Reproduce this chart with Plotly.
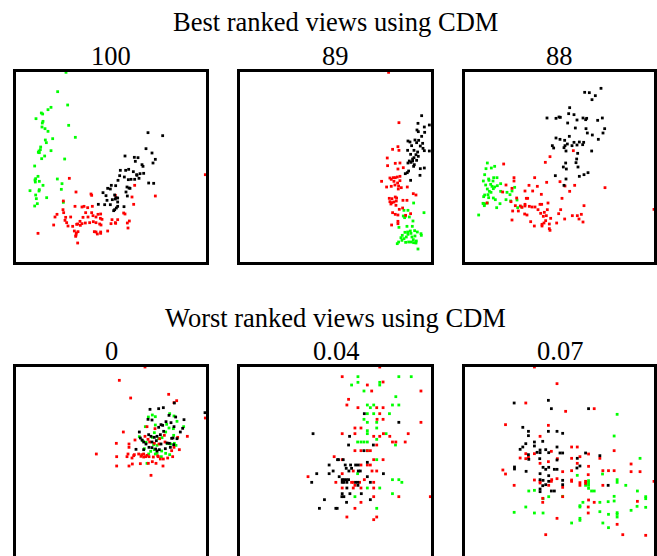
import plotly.graph_objects as go

# ---------------- data (embedding coordinates, arbitrary units) ----------------
# Panel 1 (score 100)
p1_green = [(197,36),(172,94),(202,134),(152,141),(143,148),(123,158),(127,161),(107,175),(128,183),(126,188),
            (125,200),(134,205),(205,195),(143,213),(157,235),(135,239),(138,247),(225,231),(121,260),(120,268),
            (152,271),(116,272),(117,277),(114,276),(133,287),(124,295),(193,296),(103,317),(113,348),(106,355),
            (104,359),(117,363),(105,365),(171,356),(185,370),(128,375),(183,387),(117,388),(89,391),(116,392),
            (106,404),(108,415),(139,412),(189,426),(111,430),(103,437)]
p1_black = [(443,217),(487,226),(437,265),(455,278),(465,297),(374,287),(402,291),(413,292),(405,303),(458,308),
            (425,313),(428,318),(360,330),(376,330),(385,327),(399,334),(409,343),(419,340),(430,339),(410,345),
            (358,346),(372,350),(384,358),(392,357),(403,357),(416,354),(353,360),(346,376),(333,375),(445,368),
            (460,369),(380,380),(386,383),(389,384),(322,384),(308,397),(330,386),(377,395),(317,406),(343,404),
            (347,412),(352,413),(345,416),(336,418),(381,407),(320,420),(313,433),(330,433),(294,432),(352,438),
            (348,443),(343,448),(340,451),(371,439),(352,425)]
p1_red = [(615,343),(207,354),(227,395),(272,401),(274,405),(345,405),(403,375),(395,410),(465,407),(400,432),
          (189,422),(188,448),(190,457),(170,462),(224,438),(245,440),(251,438),(262,442),(276,438),(211,470),
          (196,471),(164,470),(256,457),(274,457),(293,462),(301,461),(278,466),(287,470),(248,471),(263,470),
          (239,483),(300,474),(305,477),(335,478),(352,478),(370,458),(374,461),(387,482),(194,480),(199,487),
          (232,491),(240,495),(229,492),(245,490),(255,488),(268,487),(279,484),(287,487),(298,491),(302,494),
          (332,490),(346,489),(345,487),(160,494),(203,497),(217,498),(222,512),(233,514),(228,518),(227,524),
          (226,528),(282,514),(287,515),(291,521),(301,515),(301,519),(322,512),(381,488),(383,503),(113,519),
          (232,548)]

# Panel 2 (score 89)
p2_red = [(490,36),(521,187),(518,259),(521,270),(502,267),(486,293),(487,316),(510,309),(524,308),(518,326),
          (534,322),(469,363),(494,353),(498,357),(504,352),(510,352),(516,350),(524,348),(506,363),(524,361),
          (517,368),(520,377),(509,374),(498,378),(484,380),(528,382),(519,386),(546,380),(564,400),(572,404),
          (492,414),(500,415),(510,410),(514,413),(494,424),(500,427),(497,431),(506,425),(513,422),(512,435),
          (533,420),(545,420),(532,443),(522,447),(502,457),(510,462),(518,464),(556,460),(518,483),(499,494),
          (518,490),(541,465)]
p2_black = [(589,166),(578,189),(612,194),(575,209),(597,200),(579,214),(598,216),(589,228),(569,239),(548,242),
            (554,245),(574,247),(580,240),(592,249),(585,257),(559,256),(547,270),(566,270),(577,275),(593,264),
            (597,271),(612,272),(572,283),(579,288),(566,292),(552,302),(548,308),(557,306),(562,302),(574,300),
            (567,313),(565,318),(585,325),(597,323),(550,332),(546,337),(540,340),(584,345),(556,360),(556,282),
            (562,296)]
p2_green = [(565,428),(536,450),(548,450),(534,467),(540,468),(538,472),(552,470),(596,457),(563,482),(545,498),
            (521,501),(561,498),(568,511),(576,515),(555,512),(557,519),(548,522),(543,530),(527,532),(536,535),
            (530,540),(520,545),(541,546),(550,545),(558,545),(565,547),(572,548),(573,542),(587,520),(588,525),
            (569,527),(560,530),(578,566),(516,550),(539,516),(547,515),(531,525),(564,538)]

# Panel 3 (score 88)
p3_black = [(453,84),(404,96),(418,97),(436,106),(426,118),(359,142),(356,160),(372,163),(353,188),(291,173),
            (318,174),(327,170),(331,171),(381,179),(399,173),(410,174),(407,178),(443,180),(457,173),(376,203),
            (408,205),(412,218),(464,205),(459,218),(427,224),(445,237),(318,233),(330,237),(358,228),(344,240),
            (352,251),(372,246),(388,245),(401,246),(381,254),(366,256),(398,253),(307,256),(311,263),(342,262),
            (348,272),(345,256),(383,279),(425,272),(380,296),(378,307),(347,308),(384,320),(340,320),(349,326),
            (414,337),(402,343),(388,348),(316,346),(348,356),(342,375)]
p3_red = [(370,271),(300,289),(286,306),(161,311),(192,352),(192,362),(254,352),(290,366),(330,364),(168,374),
          (237,375),(262,378),(186,384),(158,395),(225,392),(248,392),(345,377),(374,375),(359,393),(465,382),
          (274,402),(200,413),(229,414),(233,414),(183,424),(196,436),(211,437),(216,441),(225,432),(225,437),
          (238,438),(246,440),(255,440),(270,432),(275,432),(294,428),(336,414),(402,436),(332,448),(188,452),
          (205,452),(264,448),(292,448),(224,461),(231,464),(272,459),(283,456),(289,466),(326,460),(367,466),
          (382,466),(394,462),(387,476),(302,474),(280,468),(186,479),(242,484),(287,481),(282,488),(276,492),
          (298,491),(253,497),(276,497),(298,505),(300,510),(320,488),(344,476),(399,485),(612,447),(111,428)]
p3_green = [(112,308),(124,323),(134,318),(108,325),(104,343),(116,356),(131,352),(141,352),(100,362),(117,360),
            (129,362),(152,370),(122,372),(107,374),(126,378),(134,380),(142,376),(112,386),(130,385),(118,393),
            (123,396),(152,393),(171,396),(186,392),(194,381),(104,404),(114,403),(116,412),(101,409),(130,413),
            (136,418),(150,430),(112,428),(99,429),(104,431),(103,436),(140,442),(180,403),(168,418),(182,422),
            (201,419),(203,442),(215,440),(86,464),(101,430)]

# Panel 4 (score 0)
p4_red = [(434,37),(357,77),(391,130),(505,119),(529,138),(521,144),(369,232),(440,216),(464,222),(492,242),
          (561,245),(532,248),(434,245),(348,266),(386,268),(404,256),(386,278),(383,298),(349,306),(380,306),
          (395,310),(400,303),(402,300),(415,298),(424,300),(430,298),(422,305),(430,307),(436,306),(440,302),
          (446,306),(459,307),(474,306),(480,313),(489,313),(472,304),(288,298),(349,334),(386,334),(396,328),
          (420,327),(444,326),(456,321),(467,326),(488,334),(502,310),(517,306),(537,285),(521,278),(514,288),
          (452,362),(615,190),(443,254),(448,262),(462,266),(476,268),(494,262),(478,252)]
p4_black = [(449,164),(475,162),(489,159),(522,145),(506,182),(526,187),(551,195),(443,194),(455,196),(497,201),
            (512,204),(521,216),(482,210),(487,212),(475,218),(547,221),(540,232),(417,232),(445,240),(452,245),
            (462,248),(470,245),(480,240),(490,230),(514,251),(518,250),(530,252),(420,250),(425,256),(430,262),
            (437,268),(455,262),(468,258),(482,268),(500,265),(507,266),(520,270),(407,284),(430,285),(446,278),
            (455,279),(466,283),(470,289),(477,285),(495,282),(510,278),(614,174)]
p4_green = [(444,187),(456,181),(465,186),(508,177),(521,184),(530,200),(550,216),(435,216),(465,211),(499,209),
            (462,234),(496,232),(506,220),(519,222),(417,246),(456,248),(475,252),(485,249),(520,242),(427,258),
            (437,263),(460,270),(470,272),(501,267),(511,268),(522,266),(527,272),(432,282),(462,285),(484,289),
            (496,296),(508,300),(451,290),(445,298),(465,298),(470,296),(440,326),(483,306)]

# Panel 5 (score 0.04)
p5_red = [(464,37),(352,66),(474,82),(427,91),(440,109),(587,109),(371,134),(366,151),(399,159),(455,159),
          (474,159),(464,177),(456,194),(474,194),(587,203),(390,220),(408,220),(352,237),(390,237),(446,245),
          (464,245),(475,237),(494,245),(549,237),(455,271),(502,262),(512,262),(540,262),(390,288),(408,288),
          (427,288),(436,288),(328,306),(352,315),(446,315),(474,315),(408,331),(427,331),(436,331),(441,349),
          (455,349),(385,349),(352,357),(250,366),(333,383),(380,383),(385,383),(404,383),(418,375),(446,383),
          (390,392),(352,400),(385,400),(408,400),(446,400),(521,426),(446,426),(408,443),(390,461),(366,487),
          (455,487),(446,495),(615,426)]
p5_black = [(418,177),(521,203),(265,237),(374,245),(371,271),(445,271),(417,288),(338,315),(355,315),(341,315),
            (427,323),(313,331),(361,331),(377,331),(392,331),(400,331),(364,341),(380,341),(325,349),(276,357),
            (313,357),(372,349),(400,349),(406,349),(475,357),(427,366),(343,366),(352,375),(357,375),(364,375),
            (371,375),(261,383),(352,383),(357,383),(366,383),(392,383),(399,383),(436,383),(366,400),(399,392),
            (352,417),(375,417),(409,417),(351,426),(357,426),(299,435),(365,443),(436,435),(284,461),(333,461),
            (337,461)]
p5_green = [(399,66),(521,66),(558,66),(399,83),(464,83),(380,91),(464,91),(417,109),(512,126),(427,151),
            (446,151),(502,151),(521,151),(436,159),(427,177),(446,177),(493,177),(417,194),(427,203),(455,203),
            (455,220),(427,228),(427,237),(483,237),(398,262),(408,262),(417,262),(427,262),(455,254),(511,271),
            (427,288),(455,315),(398,357),(502,375),(521,375),(530,383),(427,400),(464,400),(390,426),(502,417),
            (455,461)]

# Panel 6 (score 0.07)
p6_red = [(254,37),(322,87),(228,145),(434,162),(348,170),(167,210),(296,212),(271,245),(254,297),(228,297),
          (236,308),(211,310),(228,312),(296,321),(305,290),(323,312),(271,326),(159,346),(167,358),(366,277),
          (383,277),(391,306),(417,298),(366,311),(451,311),(494,288),(545,328),(383,326),(339,351),(366,348),
          (417,335),(416,360),(460,348),(477,348),(494,348),(545,351),(572,351),(254,376),(271,380),(271,385),
          (306,375),(305,380),(322,372),(297,392),(193,392),(339,398),(366,376),(366,380),(391,384),(391,392),
          (408,380),(408,386),(460,392),(339,426),(279,431),(279,443),(417,436),(434,443),(416,457),(416,475),
          (564,440),(322,491),(503,509),(288,540),(520,540),(589,542),(614,380)]
p6_black = [(193,145),(296,137),(305,162),(417,162),(219,218),(236,230),(236,243),(296,230),(322,230),(339,236),
            (279,260),(254,262),(254,274),(228,267),(219,277),(211,284),(271,286),(271,294),(288,285),(297,294),
            (262,293),(236,300),(331,295),(339,295),(322,277),(408,295),(451,303),(237,314),(270,312),(322,316),
            (383,311),(280,338),(288,344),(297,338),(314,344),(322,344),(382,340),(391,334),(194,337),(194,343),
            (229,350),(271,357),(297,363),(271,375),(280,377),(297,380),(339,377),(339,390),(288,390),(279,393),
            (271,403),(271,411),(305,409),(314,409),(476,392)]
p6_green = [(503,179),(494,244),(572,311),(459,358),(383,362),(503,375),(503,383),(417,378),(417,384),(417,392),
            (417,401),(408,392),(529,392),(564,409),(237,409),(254,407),(297,426),(434,409),(426,409),(339,425),
            (280,432),(400,443),(391,453),(391,457),(451,443),(476,441),(494,425),(494,439),(589,426),(589,432),
            (563,455),(589,458),(545,467),(228,457),(193,473),(254,475),(280,475),(451,471),(477,479),(503,479),
            (503,487),(503,474),(391,491),(391,497),(366,505),(460,505),(477,519)]

section_titles = ["Best ranked views using CDM", "Worst ranked views using CDM"]
scores = ["100", "89", "88", "0", "0.04", "0.07"]

panels = [
    dict(red=p1_red, green=p1_green, black=p1_black, xr=[47, 617], yr=[605, 35]),
    dict(red=p2_red, green=p2_green, black=p2_black, xr=[45, 617], yr=[605, 35]),
    dict(red=p3_red, green=p3_green, black=p3_black, xr=[45, 612], yr=[605, 35]),
    dict(red=p4_red, green=p4_green, black=p4_black, xr=[47, 617], yr=[604, 37]),
    dict(red=p5_red, green=p5_green, black=p5_black, xr=[47, 617], yr=[604, 37]),
    dict(red=p6_red, green=p6_green, black=p6_black, xr=[45, 614], yr=[604, 37]),
]

# ---------------- layout geometry ----------------
W, H = 657, 556
col_px = [(16, 206), (240, 431), (465, 654)]
row_px = [(72, 262), (367, 556)]
colors = {"red": "#ff0000", "green": "#00ff00", "black": "#000000"}

fig = go.Figure()
layout = dict(width=W, height=H, margin=dict(l=0, r=0, t=0, b=0),
              paper_bgcolor="white", plot_bgcolor="white", showlegend=False)

for i, p in enumerate(panels):
    r, c = divmod(i, 3)
    n = "" if i == 0 else str(i + 1)
    xa, ya = "x" + n, "y" + n
    for key in ["green", "red", "black"]:
        pts = p[key]
        fig.add_trace(go.Scatter(
            x=[q[0] for q in pts], y=[q[1] for q in pts], mode="markers",
            marker=dict(color=colors[key], size=2.8, symbol="square", line=dict(width=0)),
            xaxis=xa, yaxis=ya, hoverinfo="skip"))
    x0, x1 = col_px[c]
    y0, y1 = row_px[r]
    xdom = [x0 / W, x1 / W]
    ydom = [max(0.0, 1 - y1 / H), 1 - y0 / H]
    common = dict(showgrid=False, zeroline=False, showticklabels=False, ticks="",
                  showline=True, linecolor="black", linewidth=2.5)
    if r == 0:
        layout["xaxis" + n] = dict(domain=xdom, range=p["xr"], mirror=True, anchor=ya, **common)
    else:
        layout["xaxis" + n] = dict(domain=xdom, range=p["xr"], mirror=False, side="top", anchor=ya, **common)
    layout["yaxis" + n] = dict(domain=ydom, range=p["yr"], mirror=True, anchor=xa, **common)

font = dict(family="Liberation Serif", size=26.5, color="black")
annotations = [
    dict(text=section_titles[0], x=335 / W, y=1 - 22 / H),
    dict(text=section_titles[1], x=335 / W, y=1 - 317.5 / H),
]
for i, s in enumerate(scores):
    r, c = divmod(i, 3)
    cx = sum(col_px[c]) / 2
    cy = [55.5, 351][r]
    annotations.append(dict(text=s, x=cx / W, y=1 - cy / H))
for a in annotations:
    a.update(xref="paper", yref="paper", xanchor="center", yanchor="middle",
             showarrow=False, font=font)
layout["annotations"] = annotations

fig.update_layout(**layout)
fig.write_html("out.html")
